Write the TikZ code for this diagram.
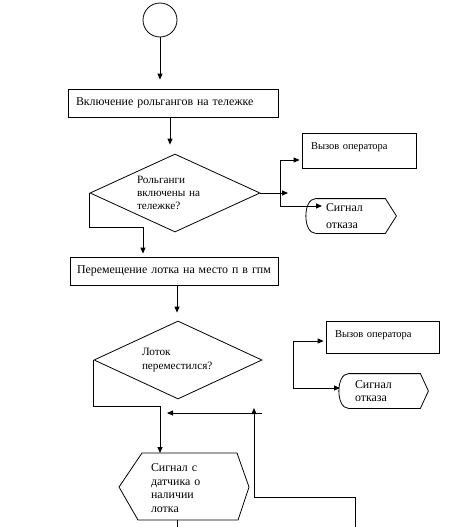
\documentclass[tikz,border=0pt]{standalone}
\usepackage{fontspec}
\setmainfont{Liberation Serif}
\usetikzlibrary{shapes.geometric,arrows.meta,calc}
\begin{document}
\begin{tikzpicture}[x=1pt,y=-1pt,
  line width=0.8pt,
  every node/.style={font=\fontsize{10.5}{13}\selectfont},
  big/.style={font=\fontsize{11.9}{13.5}\selectfont},
  mid/.style={font=\fontsize{11.2}{13.2}\selectfont},
  arr/.style={-{Triangle[length=6pt,width=5pt]}},
  procbox/.style={draw, rectangle, align=left, inner xsep=8pt, inner ysep=0pt, big},
  decision/.style={draw, diamond, aspect=2.2, inner sep=0pt, align=left, mid},
  opbox/.style={draw, rectangle, align=left, inner xsep=9pt, inner ysep=0pt, text height=16pt},
  txt/.style={align=left, inner sep=0pt, big}
]
\useasboundingbox (0,0) rectangle (454,527);

% nodes
\node[draw, circle, minimum size=34pt, inner sep=0pt] (start) at (160,20) {};
\node[procbox, minimum width=210pt, minimum height=28pt, text width=194pt] (b1) at (173,103) {Включение рольгангов на тележке};
\node[decision, minimum width=170pt, minimum height=78pt, text width=76pt] (d1) at (175,193) {Рольганги\\ включены на\\ тележке?};
\node[opbox, text width=96pt, text depth=19pt] (op1) at (359,150.5) {Вызов оператора};
\node[txt, text width=50pt, minimum width=90pt, minimum height=34pt] (s1) at (351,216) {Сигнал\\[3pt] отказа};
\draw ($(s1.north west)+(10,0)$) -- ($(s1.north east)+(-11,0)$) -- (s1.east)
  -- ($(s1.south east)+(-11,0)$) -- ($(s1.south west)+(10,0)$)
  .. controls ($(s1.south west)+(-3,0)$) and ($(s1.north west)+(-3,0)$) .. cycle;

\node[procbox, inner xsep=4pt, minimum width=208pt, minimum height=28pt, text width=200pt] (b2) at (174,271) {\hspace*{3pt}Перемещение лотка на место п в гпм};
\node[decision, minimum width=168pt, minimum height=78pt, text width=72pt] (d2) at (178,360) {Лоток\\ переместился?};
\node[opbox, text width=95pt, text depth=16pt] (op2) at (382.5,337) {Вызов оператора};
\node[txt, text width=57pt, minimum width=89pt, minimum height=34pt] (s2) at (383.5,391) {Сигнал\\ отказа};
\draw ($(s2.north west)+(10,0)$) -- ($(s2.north east)+(-8,0)$) -- (s2.east)
  -- ($(s2.south east)+(-8,0)$) -- ($(s2.south west)+(10,0)$)
  .. controls ($(s2.south west)+(-3,0)$) and ($(s2.north west)+(-3,0)$) .. cycle;

\node[txt, text width=66pt] (hx) at (184,488) {Сигнал с\\ датчика о\\ наличии\\ лотка};
\draw (142,453) -- (237,453) -- (249,487) -- (238,520) -- (138,520) -- (119,487) -- cycle;
\coordinate (hxtop) at (160,453);
\coordinate (hxbot) at (177,520);

% connectors
\draw[arr, shorten >=9pt] (start.south) -- (start.south |- b1.north);
\coordinate (b1out) at ($(b1.south)+(-3,0)$);
\draw[arr, shorten >=9pt] (b1out) -- (b1out |- d1.north);
\coordinate (j1) at (143,227);
\draw[arr, shorten >=3pt] (d1.west) |- (j1) -- (j1 |- b2.north);
\coordinate (r1) at (288,193);
\draw[arr] (d1.east) -- (r1);
\coordinate (v1top) at (280,160);
\coordinate (v1bot) at (280,206);
\coordinate (s1in) at (322,206);
\draw[arr, shorten >=2pt] (v1bot) -- (v1top) -- (v1top -| op1.west);
\draw[arr] (v1bot) -- (s1in);

\coordinate (b2out) at ($(b2.south)+(3,0)$);
\draw[arr, shorten >=8pt] (b2out) -- (b2out |- d2.north);
\coordinate (j2) at (160,406);
\draw[arr] (d2.west) |- (j2) -- (hxtop);
\coordinate (v2top) at (293,341);
\coordinate (v2bot) at (293,388);
\coordinate (s2in) at (340,388);
\draw[arr, shorten >=2pt] (v2bot) -- (v2top) -- (v2top -| op2.west);
\draw[arr] (v2bot) -- (s2in);

\coordinate (h1r) at (262,413);
\coordinate (h1l) at (167,413);
\draw[arr] (h1r) -- (h1l);
\coordinate (lp1) at (254,497);
\coordinate (lpt) at (254,408);
\coordinate (lp2) at (355,527);
\draw[arr] (lp2) |- (lp1) -- (lpt);
\draw (hxbot) -- (hxbot |- lp2);
\end{tikzpicture}
\end{document}
